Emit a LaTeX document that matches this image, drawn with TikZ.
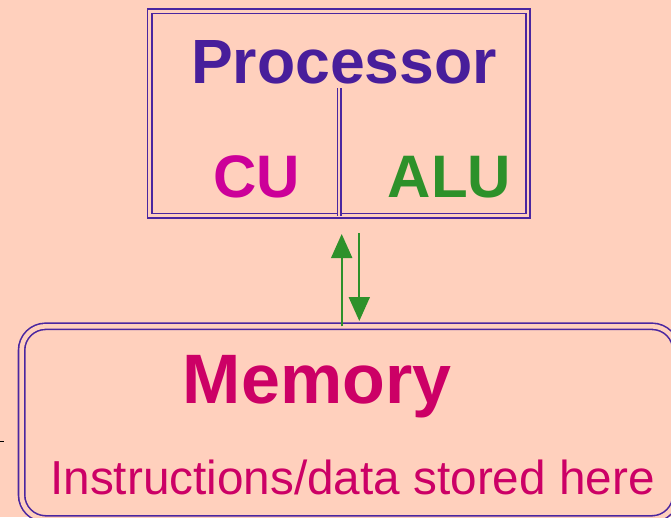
\documentclass[tikz,border=0pt]{standalone}
\usepackage{fontspec}
\setmainfont{Liberation Sans}
\usetikzlibrary{arrows.meta}
\definecolor{bgpeach}{RGB}{255,208,189}
\definecolor{boxpurple}{RGB}{74,38,160}
\definecolor{procpurple}{RGB}{72,30,155}
\definecolor{cumag}{RGB}{204,0,153}
\definecolor{alugreen}{RGB}{45,145,42}
\definecolor{memred}{RGB}{204,0,102}
\tikzset{
  dblbox/.style={draw=boxpurple, line width=1.6pt, double=bgpeach, double distance=2.8pt, inner sep=0pt, outer sep=0pt},
  dblline/.style={draw=boxpurple, line width=1.5pt, double=bgpeach, double distance=2.2pt},
  txt/.style={inner sep=0pt, outer sep=0pt, anchor=base},
  flowarrow/.style={draw=alugreen, line width=1.9pt, -{Triangle[width=21pt,length=24pt]}},
}
\begin{document}
\begin{tikzpicture}[x=1pt,y=-1pt]
\useasboundingbox (0,0) rectangle (671,517);
\fill[bgpeach] (0,0) rectangle (671,517);
\clip (0,0) rectangle (671,517);
% processor box
\node[dblbox, minimum width=378.5pt, minimum height=204.6pt] (proc) at (338.75,113.5) {};
% memory box
\node[dblbox, double distance=4.6pt, rounded corners=24pt, minimum width=654.4pt, minimum height=192.6pt] (mem) at (348.8,422.6) {};
% divider
\coordinate (divtop) at (339.2,88);
\draw[dblline] (divtop) -- (divtop |- proc.south);
% texts
\node[txt, text=procpurple, font=\bfseries\fontsize{62.5}{70}\selectfont] (ptxt) at (344,83) {Processor};
\node[txt, text=cumag, font=\bfseries\fontsize{60}{66}\selectfont] (cu) at (257,197) {CU};
\node[txt, text=alugreen, font=\bfseries\fontsize{60}{66}\selectfont] (alu) at (449.5,197) {ALU};
\node[txt, text=memred, font=\bfseries\fontsize{70}{78}\selectfont] (memtxt) at (317,403) {Memory};
\node[txt, text=memred, font=\fontsize{47.7}{54}\selectfont] (instr) at (352.5,494) {Instructions/data stored here};
% arrows
\coordinate (upx) at (341.7,0);
\coordinate (dnx) at (359.3,0);
\draw[flowarrow, shorten >=18.2pt] (upx |- mem.north) -- (upx |- proc.south);
\draw[flowarrow, shorten <=17.2pt, shorten >=5.3pt] (dnx |- proc.south) -- (dnx |- mem.north);
% small stub at left edge
\coordinate (stubA) at (0,441.5);
\coordinate (stubB) at (4,441.5);
\draw[black, line width=0.8pt] (stubA) -- (stubB);
\end{tikzpicture}
\end{document}
